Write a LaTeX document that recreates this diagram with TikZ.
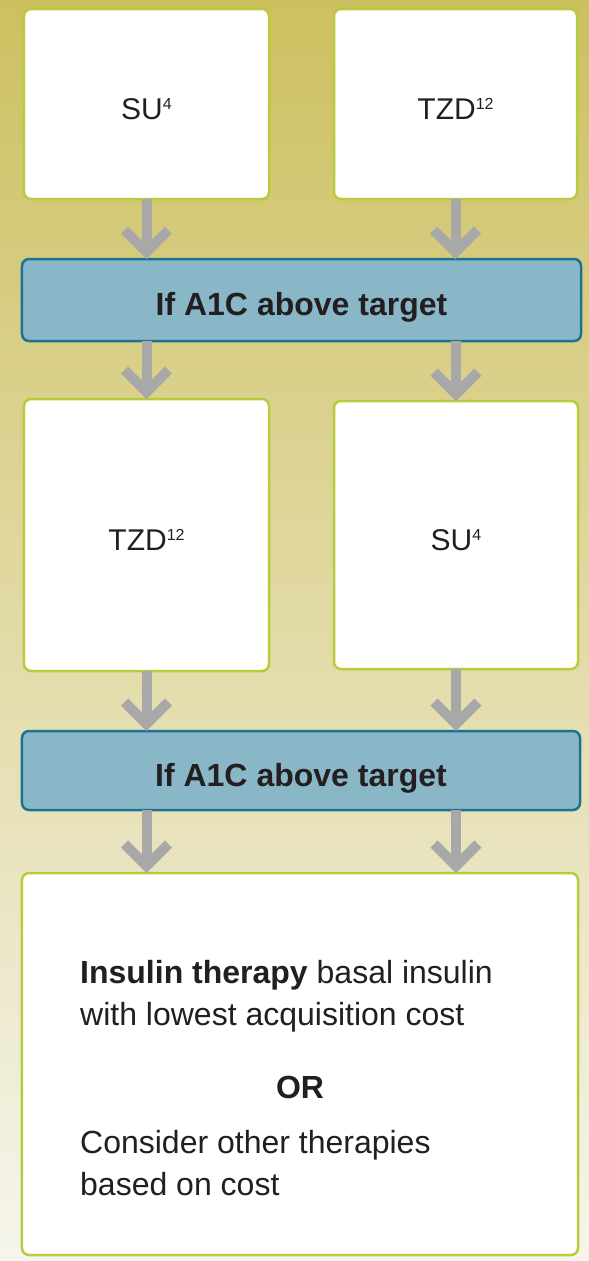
\documentclass[tikz,border=0pt]{standalone}
\usepackage{fontspec}
\setmainfont{Liberation Sans}
\usetikzlibrary{calc}

\definecolor{boxedge}{RGB}{184,203,60}
\definecolor{condfill}{RGB}{137,183,200}
\definecolor{condedge}{RGB}{28,115,145}
\definecolor{arrowgray}{RGB}{168,168,168}
\definecolor{ink}{RGB}{35,31,32}
\definecolor{bgtop}{RGB}{205,192,96}
\definecolor{bgmid}{RGB}{228,221,170}
\definecolor{bgbot}{RGB}{246,245,236}

% small raised reference number
\newcommand\refsup[1]{\raisebox{10bp}{\fontsize{16bp}{16bp}\selectfont #1}}

% shaft from the lower edge of one box to a chevron resting on the next box
% #1 column reference, #2 source node, #3 target node, #4 tip name
\newcommand\flowarrow[4]{%
  \coordinate (#4) at ($(#1 |- #3.north)+(0,-7)$);
  \draw[shaft] (#1 |- #2.south) -- (#4);
  \draw[chevron] ($(#4)+(-22,-22)$) -- (#4) -- ($(#4)+(22,-22)$);
}

\begin{document}
\begin{tikzpicture}[x=1bp,y=-1bp,
  drug/.style={draw=boxedge, line width=2.5bp, fill=white, rounded corners=7bp,
               inner sep=0pt, outer sep=0pt},
  cond/.style={draw=condedge, line width=2.5bp, fill=condfill, rounded corners=7bp,
               inner sep=0pt, outer sep=0pt},
  druglabel/.style={text=ink, inner sep=0pt, anchor=base,
               font=\fontsize{30bp}{36bp}\selectfont},
  condlabel/.style={text=ink, inner sep=0pt, anchor=base,
               font=\fontsize{32bp}{38bp}\selectfont\bfseries},
  bodytext/.style={text=ink, inner sep=0pt, anchor=base west,
               font=\fontsize{32bp}{42bp}\selectfont},
  shaft/.style={draw=arrowgray, line width=10bp, line cap=butt},
  chevron/.style={draw=arrowgray, line width=10bp, line cap=butt, line join=miter}
]
\useasboundingbox (0,0) rectangle (589,1261);
\shade[top color=bgtop, middle color=bgmid, bottom color=bgbot]
  (0,0) rectangle (589,1261);

% first line of therapy
\node[drug, minimum width=245bp, minimum height=190bp] (t1) at (146.5,104) {};
\node[drug, minimum width=243bp, minimum height=190bp] (t2) at (455.5,104) {};
\node[druglabel] (t1l) at ($(t1.center)+(0,15)$) {SU\refsup{4}};
\node[druglabel] (t2l) at ($(t2.center)+(0,15)$) {TZD\refsup{12}};

\node[cond, minimum width=559bp, minimum height=82bp] (c1) at (301.5,300) {};
\node[condlabel] (c1l) at ($(c1.center)+(0,15)$) {If A1C above target};

% second line of therapy
\node[drug, minimum width=245bp, minimum height=272bp] (m1) at (146.5,535) {};
\node[drug, minimum width=244bp, minimum height=268bp] (m2) at (456,535) {};
\node[druglabel] (m1l) at ($(m1.center)+(0,15)$) {TZD\refsup{12}};
\node[druglabel] (m2l) at ($(m2.center)+(0,15)$) {SU\refsup{4}};

\node[cond, minimum width=558bp, minimum height=79bp] (c2) at (301,770.5) {};
\node[condlabel] (c2l) at ($(c2.center)+(0,15.5)$) {If A1C above target};

% final step
\node[drug, minimum width=556bp, minimum height=382bp] (fin) at (300,1064) {};
\node[bodytext] (f1) at (80,983) {\textbf{Insulin therapy} basal insulin};
\node[bodytext] (f2) at (80,1025) {with lowest acquisition cost};
\node[text=ink, inner sep=0pt, anchor=base, font=\fontsize{32bp}{42bp}\selectfont\bfseries]
  (f3) at (300,1098) {OR};
\node[bodytext] (f4) at (80,1153) {Consider other therapies};
\node[bodytext] (f5) at (80,1195) {based on cost};

% connectors
\flowarrow{t1.south}{t1}{c1}{a1}
\flowarrow{t2.south}{t2}{c1}{a2}
\flowarrow{m1.north}{c1}{m1}{a3}
\flowarrow{m2.north}{c1}{m2}{a4}
\flowarrow{m1.south}{m1}{c2}{a5}
\flowarrow{m2.south}{m2}{c2}{a6}
\flowarrow{m1.south}{c2}{fin}{a7}
\flowarrow{m2.south}{c2}{fin}{a8}
\end{tikzpicture}
\end{document}
